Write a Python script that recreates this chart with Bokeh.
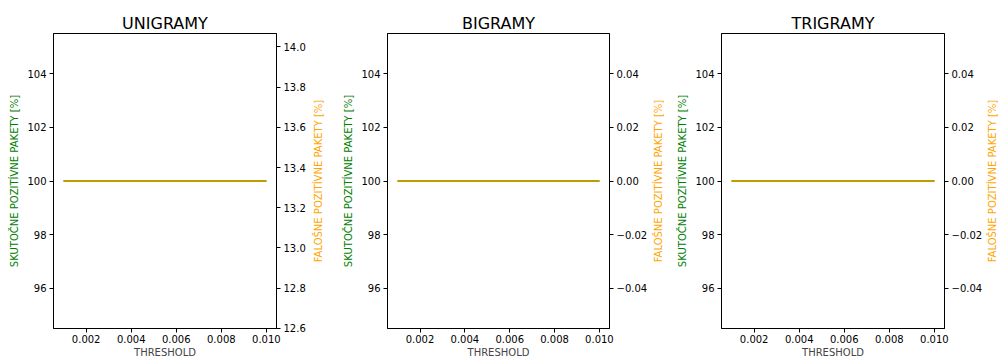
import math
from bokeh.plotting import figure
from bokeh.models import Range1d, LinearAxis, FixedTicker, Label
from bokeh.layouts import row
from bokeh.embed import file_html
from bokeh.resources import INLINE

# ---- data ----
titles = ["UNIGRAMY", "BIGRAMY", "TRIGRAMY"]
thresholds = [0.001, 0.002, 0.003, 0.004, 0.005, 0.006, 0.007, 0.008, 0.009, 0.010]
tp_unigramy = [100, 100, 100, 100, 100, 100, 100, 100, 100, 100]
fp_unigramy = [13.333, 13.333, 13.333, 13.333, 13.333, 13.333, 13.333, 13.333, 13.333, 13.333]
tp_bigramy = [100, 100, 100, 100, 100, 100, 100, 100, 100, 100]
fp_bigramy = [0, 0, 0, 0, 0, 0, 0, 0, 0, 0]
tp_trigramy = [100, 100, 100, 100, 100, 100, 100, 100, 100, 100]
fp_trigramy = [0, 0, 0, 0, 0, 0, 0, 0, 0, 0]

x_ticks = [0.002, 0.004, 0.006, 0.008, 0.010]
x_tick_labels = ["0.002", "0.004", "0.006", "0.008", "0.010"]
left_ticks = [96, 98, 100, 102, 104]
left_tick_labels = ["96", "98", "100", "102", "104"]
right_ticks_uni = [12.6, 12.8, 13.0, 13.2, 13.4, 13.6, 13.8, 14.0]
right_tick_labels_uni = ["12.6", "12.8", "13.0", "13.2", "13.4", "13.6", "13.8", "14.0"]
right_ticks_zero = [-0.04, -0.02, 0.0, 0.02, 0.04]
right_tick_labels_zero = ["\u22120.04", "\u22120.02", "0.00", "0.02", "0.04"]

tp_series = [tp_unigramy, tp_bigramy, tp_trigramy]
fp_series = [fp_unigramy, fp_bigramy, fp_trigramy]
right_ticks = [right_ticks_uni, right_ticks_zero, right_ticks_zero]
right_labels = [right_tick_labels_uni, right_tick_labels_zero, right_tick_labels_zero]

FONT = "DejaVu Sans"
GREEN = "#008000"
ORANGE = "#FFA500"


def mpl_range(vals):
    lo, hi = min(vals), max(vals)
    if lo == hi:
        if lo == 0:
            lo, hi = -0.05, 0.05
        else:
            lo, hi = lo - abs(lo) * 0.05, hi + abs(hi) * 0.05
    pad = (hi - lo) * 0.05
    return lo - pad, hi + pad


def style_axis(ax, ticks, labels):
    ax.ticker = FixedTicker(ticks=ticks)
    ax.major_label_overrides = {t: l for t, l in zip(ticks, labels)}
    ax.minor_tick_line_color = None
    ax.major_tick_in = 0
    ax.major_tick_out = 4
    ax.major_tick_line_color = "black"
    ax.axis_line_color = "black"
    ax.major_label_text_font = FONT
    ax.major_label_text_font_size = "10px"
    ax.major_label_text_color = "black"
    ax.major_label_standoff = 3
    ax.axis_label_text_font = FONT
    ax.axis_label_text_font_size = "10px"
    ax.axis_label_text_font_style = "normal"
    ax.axis_label_standoff = 4


HEIGHT = 360
TOP, BOTTOM = 33, 32
# layout: [panel][label strip] x 3
widths = [310, 324, 319]
left_borders = [53, 61, 55]
right_borders = [34, 40, 41]
strip_widths = [16, 16, 13]

children = []
for i in range(3):
    xlo, xhi = mpl_range(thresholds)
    ylo, yhi = mpl_range(tp_series[i])
    rlo, rhi = mpl_range(fp_series[i])
    p = figure(width=widths[i], height=HEIGHT, output_backend="svg", toolbar_location=None,
               x_range=Range1d(xlo, xhi), y_range=Range1d(ylo, yhi),
               min_border_left=left_borders[i], min_border_right=right_borders[i],
               min_border_top=TOP, min_border_bottom=BOTTOM,
               title=titles[i])
    p.title.align = "center"
    p.title.text_font = FONT
    p.title.text_font_size = "16px"
    p.title.text_font_style = "normal"
    p.title.text_color = "black"
    p.title.standoff = 2
    p.xgrid.visible = False
    p.ygrid.visible = False
    p.outline_line_color = "black"
    p.outline_line_width = 1
    p.outline_line_alpha = 1
    p.background_fill_color = "white"
    p.border_fill_color = "white"

    p.extra_y_ranges = {"fp": Range1d(rlo, rhi)}

    xax = p.xaxis[0]
    style_axis(xax, x_ticks, x_tick_labels)
    xax.axis_label = "THRESHOLD"
    xax.major_label_standoff = 2
    xax.axis_label_standoff = 1

    yax = p.yaxis[0]
    style_axis(yax, left_ticks, left_tick_labels)
    yax.axis_label = "SKUTOČNE POZITÍVNE PAKETY [%]"
    yax.axis_label_text_color = GREEN

    rax = LinearAxis(y_range_name="fp")
    style_axis(rax, right_ticks[i], right_labels[i])
    p.add_layout(rax, "right")

    p.line(thresholds, tp_series[i], line_color=GREEN, line_width=2)
    p.line(thresholds, fp_series[i], line_color=ORANGE, line_width=2, line_alpha=0.75,
           y_range_name="fp")
    children.append(p)

    # strip carrying the right-hand axis title (reads bottom-to-top, like the reference)
    s = figure(width=strip_widths[i], height=HEIGHT, output_backend="svg", toolbar_location=None,
               x_range=Range1d(0, 1), y_range=Range1d(0, 1),
               min_border_left=0, min_border_right=0,
               min_border_top=TOP, min_border_bottom=BOTTOM)
    s.axis.visible = False
    s.grid.visible = False
    s.outline_line_color = None
    s.background_fill_color = "white"
    s.border_fill_color = "white"
    s.add_layout(Label(x=0.5, y=0.5, text="FALOŠNE POZITÍVNE PAKETY [%]", angle=math.pi / 2,
                       text_align="center", text_baseline="middle",
                       text_font=FONT, text_font_size="10px", text_color=ORANGE))
    children.append(s)

layout = row(*children)
open("out.html", "w").write(file_html(layout, INLINE))
